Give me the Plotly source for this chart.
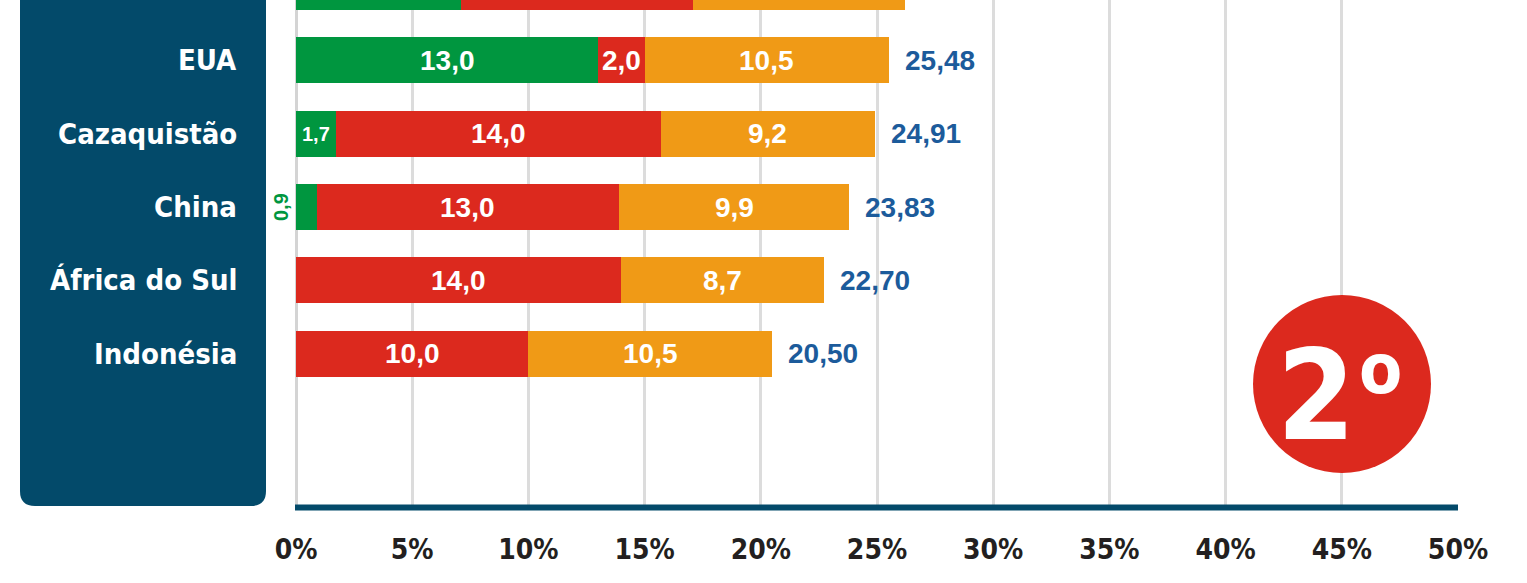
import plotly.graph_objects as go

# ---- data ----
countries = ["Austrália", "EUA", "Cazaquistão", "China", "África do Sul", "Indonésia"]
green_vals = [7.1, 13.0, 1.7, 0.9, 0.0, 0.0]
red_vals = [10.0, 2.0, 14.0, 13.0, 14.0, 10.0]
orange_vals = [9.1, 10.5, 9.2, 9.9, 8.7, 10.5]
totals = [26.20, 25.48, 24.91, 23.83, 22.70, 20.50]
tick_vals = [0, 5, 10, 15, 20, 25, 30, 35, 40, 45, 50]
tick_text = [f"{v}%" for v in tick_vals]
rank_text = "2"
rank_suffix = "o"

GREEN = "#00963f"
RED = "#dc291e"
ORANGE = "#f09a16"
BLUE_TXT = "#1c5b9b"
PANEL = "#034a6a"
NARROW = "DejaVu Sans Condensed, Liberation Sans Narrow, sans-serif"
ARIAL = "Liberation Sans, Arial, sans-serif"

W, H = 1527, 583
L, R, T, B = 296, 1458, 0, 507  # plot area in px

def px(x):
    return (x - L) / (R - L)

def py(y):
    return (B - y) / (B - T)

ypos = list(range(len(countries)))

fig = go.Figure()
for vals, col in [(green_vals, GREEN), (red_vals, RED), (orange_vals, ORANGE)]:
    fig.add_trace(go.Bar(
        y=ypos, x=vals, orientation="h", marker=dict(color=col, line=dict(width=0)),
        width=0.63, showlegend=False, hoverinfo="skip"))

annotations = []
def fmt(v, d=1):
    return f"{v:.{d}f}".replace(".", ",")

def f(family, size, color):
    return dict(family=family, size=size, color=color, weight="bold")

for i in ypos:
    g, r, o = green_vals[i], red_vals[i], orange_vals[i]
    if g >= 1.5:
        annotations.append(dict(x=g / 2, y=i, xref="x", yref="y", text=fmt(g), showarrow=False,
                                xanchor="center", yanchor="middle",
                                font=f(ARIAL, 28 if g > 3 else 20, "white")))
    elif g > 0:
        annotations.append(dict(x=0, y=i, xref="x", yref="y", text=fmt(g), showarrow=False,
                                xanchor="center", yanchor="middle",
                                xshift=-15, textangle=-90, font=f(ARIAL, 20, GREEN)))
    if r > 0:
        annotations.append(dict(x=g + r / 2, y=i, xref="x", yref="y", text=fmt(r), showarrow=False,
                                xanchor="center", yanchor="middle", font=f(ARIAL, 28, "white")))
    if o > 0:
        annotations.append(dict(x=g + r + o / 2, y=i, xref="x", yref="y", text=fmt(o), showarrow=False,
                                xanchor="center", yanchor="middle", font=f(ARIAL, 28, "white")))
    annotations.append(dict(x=g + r + o, y=i, xref="x", yref="y", text=fmt(totals[i], 2), showarrow=False,
                            xanchor="left", yanchor="middle", xshift=14, font=f(ARIAL, 28, BLUE_TXT)))
    annotations.append(dict(x=px(239), y=i, xref="paper", yref="y", text=countries[i], showarrow=False,
                            xanchor="right", yanchor="middle", font=f(NARROW, 29, "white")))

# rank badge text
annotations.append(dict(x=px(1316), y=py(395), xref="paper", yref="paper", text=rank_text, showarrow=False,
                        xanchor="center", yanchor="middle", font=f(NARROW, 125, "white")))
annotations.append(dict(x=px(1380), y=py(369), xref="paper", yref="paper", text=rank_suffix, showarrow=False,
                        xanchor="center", yanchor="middle", font=f(NARROW, 70, "white")))

# left panel with rounded bottom corners
x0, x1 = px(20), px(266)
ytop, ybot = py(-60), py(506)
rx = 15 / (R - L)
ry = 15 / (B - T)
panel_path = (f"M {x0},{ytop} L {x0},{ybot + ry} Q {x0},{ybot} {x0 + rx},{ybot} "
              f"L {x1 - rx},{ybot} Q {x1},{ybot} {x1},{ybot + ry} L {x1},{ytop} Z")

shapes = [
    dict(type="path", path=panel_path, xref="paper", yref="paper", fillcolor=PANEL,
         line=dict(width=0), layer="below"),
    dict(type="line", x0=px(295), x1=1, y0=py(507.5), y1=py(507.5), xref="paper", yref="paper",
         line=dict(color=PANEL, width=6)),
    dict(type="circle", x0=px(1253), x1=px(1431), y0=py(473), y1=py(295), xref="paper", yref="paper",
         fillcolor=RED, line=dict(width=0), layer="above"),
]

fig.update_layout(
    width=W, height=H, barmode="stack", bargap=0,
    margin=dict(l=L, r=W - R, t=T, b=H - B, pad=0),
    paper_bgcolor="white", plot_bgcolor="white",
    xaxis=dict(range=[0, 50], tickvals=tick_vals, ticktext=tick_text, showgrid=True,
               gridcolor="#dcdcdc", gridwidth=3, zeroline=True, zerolinecolor="#d4d4d4", zerolinewidth=3,
               ticks="outside", ticklen=17, tickcolor="rgba(0,0,0,0)",
               tickfont=f(NARROW, 28, "#231f20"), showline=False, fixedrange=True),
    yaxis=dict(range=[7.09, 0.177], showticklabels=False, showgrid=False, zeroline=False,
               showline=False, fixedrange=True),
    annotations=annotations, shapes=shapes,
)

fig.write_html("out.html", config={"displayModeBar": False},
               post_script="document.body.style.margin='0px';")
